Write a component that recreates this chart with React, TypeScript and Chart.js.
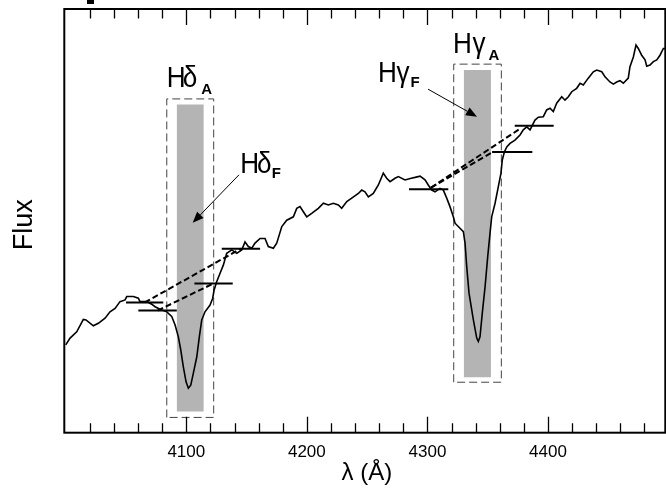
import React, { useEffect, useRef } from "react";
import { Chart, registerables } from "chart.js";

Chart.register(...registerables);

// ---- spectrum (wavelength in Å, flux in arbitrary units) ----
const WAVELENGTH = [4000.0,4003.6,4009.1,4014.6,4016.8,4022.9,4027.0,4032.6,4036.7,4040.9,
4045.0,4049.2,4050.6,4056.1,4060.2,4061.6,4067.2,4071.3,4074.1,4078.2,
4083.8,4087.9,4090.7,4093.4,4095.4,4097.5,4099.8,4101.7,4103.7,4105.8,
4108.7,4110.8,4112.8,4115.5,4119.7,4121.9,4123.0,4125.2,4128.0,4130.7,
4133.5,4137.7,4141.8,4146.0,4148.7,4151.4,4154.3,4157.0,4161.2,4165.3,
4168.0,4172.2,4175.0,4179.2,4183.3,4188.8,4191.6,4194.3,4197.1,4199.9,
4204.0,4209.5,4213.7,4217.8,4222.0,4226.1,4228.9,4233.1,4237.2,4242.7,
4245.5,4248.2,4251.0,4255.1,4259.3,4263.4,4266.2,4269.0,4273.1,4275.9,
4281.4,4286.6,4289.7,4293.9,4298.0,4300.7,4303.6,4306.3,4310.4,4313.2,
4316.0,4318.7,4321.5,4322.9,4327.0,4329.8,4331.2,4332.6,4334.5,4338.1,
4340.9,4342.2,4343.6,4345.5,4347.8,4350.0,4351.9,4353.3,4356.1,4358.8,
4361.0,4362.1,4363.8,4365.8,4368.5,4372.6,4376.8,4379.5,4382.4,4385.1,
4389.2,4392.0,4396.1,4398.9,4401.7,4404.4,4407.2,4411.4,4414.1,4416.9,
4419.7,4423.8,4426.6,4429.3,4433.4,4437.6,4440.4,4444.6,4447.3,4451.4,
4454.2,4457.0,4459.7,4462.5,4466.6,4468.0,4470.8,4473.0,4474.9,4477.7,
4480.5,4481.9,4484.6,4487.4,4490.2,4492.9,4495.7,4497.1];

const FLUX = [20.7,22.3,23.8,26.7,26.6,25.2,25.8,27.0,28.5,29.3,
30.9,31.3,32.1,32.1,31.7,30.9,30.9,30.3,29.7,29.1,
28.5,27.4,25.4,22.6,19.5,15.6,12.0,10.5,11.2,14.0,
17.9,22.6,26.6,28.5,30.1,31.7,33.6,35.6,37.6,39.5,
42.3,43.1,42.3,43.1,45.0,43.9,43.5,44.7,45.8,45.8,
43.9,43.5,44.7,48.6,50.1,50.9,52.9,53.3,52.1,50.9,
51.7,52.9,54.1,53.7,54.1,53.7,52.9,54.5,55.3,56.4,
57.2,56.8,55.6,56.4,58.4,61.2,60.0,59.2,60.0,60.4,
59.6,60.0,60.2,60.5,59.6,58.4,57.2,56.8,57.6,57.2,
55.3,53.3,50.9,49.4,48.2,47.4,44.7,39.1,32.9,26.6,
22.3,21.5,22.6,28.2,34.4,41.5,47.0,50.9,54.1,58.0,
61.2,64.3,66.2,67.4,68.2,69.0,70.2,71.4,72.1,71.4,
73.7,74.4,74.5,76.1,76.5,75.7,77.7,79.2,78.4,79.2,
80.4,81.2,82.4,82.0,83.6,85.1,85.5,85.1,83.9,82.7,
82.2,82.7,83.0,82.4,83.6,86.3,88.6,91.4,90.6,89.0,
87.9,86.4,86.7,87.5,87.9,89.0,90.6,90.6];

// ---- index bands: F (filled) and A (dashed box) ----
const BAND_F_LO = [4092.0, 4330.1];
const BAND_F_HI = [4114.5, 4352.7];
const BAND_F_TOP = [77.4, 85.5];
const BAND_F_BOTTOM = [5.0, 13.1];
const BAND_A_LO = [4083.8, 4321.8];
const BAND_A_HI = [4122.7, 4361.3];
const BAND_A_TOP = [78.7, 86.9];
const BAND_A_BOTTOM = [3.6, 11.9];

// ---- pseudo-continuum bands ----
const CONT_LO = [4050.0, 4129.4, 4060.2, 4106.7, 4284.7, 4353.6, 4372.4];
const CONT_HI = [4080.9, 4161.2, 4092.1, 4138.5, 4317.3, 4387.0, 4404.7];
const CONT_LEVEL = [30.7, 43.4, 28.8, 35.2, 57.4, 66.2, 72.4];

// ---- continuum lines (dashed) ----
const CLINE_X0 = [4065.5, 4076.2, 4303.0, 4303.0];
const CLINE_Y0 = [30.7, 28.8, 57.8, 57.8];
const CLINE_X1 = [4145.3, 4122.6, 4354.3, 4377.5];
const CLINE_Y1 = [43.4, 35.2, 66.2, 71.8];

// ---- axis ticks ----
const MAJOR_TICKS = [4100, 4200, 4300, 4400];
const MINOR_TICKS = [4020,4040,4060,4080,4120,4140,4160,4180,4220,4240,4260,4280,4320,4340,4360,4380,4420,4440,4460,4480];
const TICK_LABELS = ["4100", "4200", "4300", "4400"];

// ---- annotations ----
const LABEL_MAIN = ["H", "H", "H", "H"];
const LABEL_GREEK = ["δ", "δ", "γ", "γ"];
const LABEL_SUB = ["A", "F", "A", "F"];
const LABEL_X = [4091.5, 4152.6, 4329.1, 4266.9];
const LABEL_Y = [81.4, 61.3, 89.5, 82.7];
const ARROW_X0 = [4143.7, 4300.5];
const ARROW_Y0 = [60.8, 81.0];
const ARROW_X1 = [4105.3, 4341.1];
const ARROW_Y1 = [49.5, 74.5];

const FONT = '"Liberation Sans", Arial, Helvetica, sans-serif';

const decor = {
  id: "decor",
  afterDraw(chart: any) {
    const { ctx, chartArea: a, scales } = chart;
    const x = scales.x;
    const y = scales.y;
    ctx.save();
    ctx.strokeStyle = "#000";
    ctx.fillStyle = "#000";

    // inward ticks
    ctx.lineWidth = 1.3;
    const tick = (v: number, len: number) => {
      const px = Math.round(x.getPixelForValue(v)) + 0.5;
      ctx.beginPath();
      ctx.moveTo(px, a.bottom);
      ctx.lineTo(px, a.bottom - len);
      ctx.moveTo(px, a.top);
      ctx.lineTo(px, a.top + len);
      ctx.stroke();
    };
    MINOR_TICKS.forEach((v) => tick(v, 9.5));
    MAJOR_TICKS.forEach((v) => tick(v, 16));

    // frame
    ctx.lineWidth = 2;
    ctx.strokeRect(a.left, a.top, a.right - a.left, a.bottom - a.top);

    // tick labels
    ctx.font = `17px ${FONT}`;
    ctx.textAlign = "center";
    ctx.textBaseline = "alphabetic";
    MAJOR_TICKS.forEach((v, i) => {
      ctx.fillText(TICK_LABELS[i], x.getPixelForValue(v), a.bottom + 24);
    });

    // axis titles
    ctx.font = `24px ${FONT}`;
    ctx.fillText("λ (Å)", (a.left + a.right) / 2 + 2, a.bottom + 47.5);
    ctx.save();
    ctx.translate(a.left - 32, (a.top + a.bottom) / 2 + 4);
    ctx.rotate(-Math.PI / 2);
    ctx.font = `27px ${FONT}`;
    ctx.fillText("Flux", 0, 0);
    ctx.restore();

    // band labels
    const greekDx = [14, 14.5, 16.5, 15.5];
    const subDx = [30.7, 26.5, 31.5, 27.5];
    const subDy = [6.7, 5.6, 7, 5];
    LABEL_MAIN.forEach((m, i) => {
      const cx = x.getPixelForValue(LABEL_X[i]);
      const cy = y.getPixelForValue(LABEL_Y[i]);
      ctx.textAlign = "center";
      ctx.font = `29px ${FONT}`;
      ctx.save();
      ctx.translate(cx, cy);
      ctx.scale(0.9, 1);
      ctx.fillText(m, 0, 0);
      ctx.restore();
      ctx.save();
      ctx.translate(cx + greekDx[i], cy);
      ctx.scale(0.9, 1);
      ctx.fillText(LABEL_GREEK[i], 0, 0);
      ctx.restore();
      ctx.font = `bold 15px ${FONT}`;
      ctx.fillText(LABEL_SUB[i], cx + subDx[i], cy + subDy[i]);
    });

    // arrows
    ctx.lineWidth = 1;
    ARROW_X0.forEach((_, i) => {
      const x0 = x.getPixelForValue(ARROW_X0[i]);
      const y0 = y.getPixelForValue(ARROW_Y0[i]);
      const x1 = x.getPixelForValue(ARROW_X1[i]);
      const y1 = y.getPixelForValue(ARROW_Y1[i]);
      const ang = Math.atan2(y1 - y0, x1 - x0);
      const hl = 11, hw = 4.5;
      const bx = x1 - hl * Math.cos(ang);
      const by = y1 - hl * Math.sin(ang);
      ctx.beginPath();
      ctx.moveTo(x0, y0);
      ctx.lineTo(bx, by);
      ctx.stroke();
      ctx.beginPath();
      ctx.moveTo(x1, y1);
      ctx.lineTo(bx + hw * Math.sin(ang), by - hw * Math.cos(ang));
      ctx.lineTo(bx - hw * Math.sin(ang), by + hw * Math.cos(ang));
      ctx.closePath();
      ctx.fill();
    });

    // clipped glyph fragment at top-left of the original figure
    ctx.fillRect(87, 0, 7, 4);
    ctx.restore();
  },
};

export default function App() {
  const ref = useRef<HTMLCanvasElement>(null);

  useEffect(() => {
    if (!ref.current) return;
    const datasets: any[] = [];

    // F bands (gray fill)
    BAND_F_LO.forEach((_, i) => {
      datasets.push({
        data: [
          { x: BAND_F_LO[i], y: BAND_F_TOP[i] },
          { x: BAND_F_HI[i], y: BAND_F_TOP[i] },
        ],
        borderWidth: 0,
        borderColor: "rgba(0,0,0,0)",
        backgroundColor: "#b4b4b4",
        fill: { value: BAND_F_BOTTOM[i] },
        pointRadius: 0,
        order: 10,
      });
    });
    // A bands (dashed boxes)
    BAND_A_LO.forEach((_, i) => {
      datasets.push({
        data: [
          { x: BAND_A_LO[i], y: BAND_A_BOTTOM[i] },
          { x: BAND_A_LO[i], y: BAND_A_TOP[i] },
          { x: BAND_A_HI[i], y: BAND_A_TOP[i] },
          { x: BAND_A_HI[i], y: BAND_A_BOTTOM[i] },
          { x: BAND_A_LO[i], y: BAND_A_BOTTOM[i] },
        ],
        borderColor: "#444",
        borderWidth: 1,
        borderDash: [8, 4],
        fill: false,
        pointRadius: 0,
        order: 9,
      });
    });
    // spectrum
    datasets.push({
      data: WAVELENGTH.map((w, i) => ({ x: w, y: FLUX[i] })),
      borderColor: "#000",
      borderWidth: 1.6,
      fill: false,
      pointRadius: 0,
      tension: 0,
      order: 5,
    });
    // pseudo-continua
    CONT_LO.forEach((_, i) => {
      datasets.push({
        data: [
          { x: CONT_LO[i], y: CONT_LEVEL[i] },
          { x: CONT_HI[i], y: CONT_LEVEL[i] },
        ],
        borderColor: "#000",
        borderWidth: 2,
        fill: false,
        pointRadius: 0,
        order: 3,
      });
    });
    // continuum lines
    CLINE_X0.forEach((_, i) => {
      datasets.push({
        data: [
          { x: CLINE_X0[i], y: CLINE_Y0[i] },
          { x: CLINE_X1[i], y: CLINE_Y1[i] },
        ],
        borderColor: "#000",
        borderWidth: 2,
        borderDash: [6, 3],
        fill: false,
        pointRadius: 0,
        order: 2,
      });
    });

    const chart = new Chart(ref.current, {
      type: "line",
      data: { datasets },
      options: {
        animation: false,
        responsive: false,
        devicePixelRatio: 1,
        layout: { padding: { left: 64.3, right: 0.7, top: 9, bottom: 64.3 } },
        plugins: { legend: { display: false }, tooltip: { enabled: false } },
        scales: {
          x: { type: "linear", min: 3998.8, max: 4497.3, display: false },
          y: { type: "linear", min: 0, max: 99.9, display: false },
        },
      },
      plugins: [decor],
    });
    return () => chart.destroy();
  }, []);

  return (
    <div style={{ position: "absolute", left: 0, top: 0, width: 666, height: 497, background: "#fff" }}>
      <canvas ref={ref} width={666} height={497} />
    </div>
  );
}
